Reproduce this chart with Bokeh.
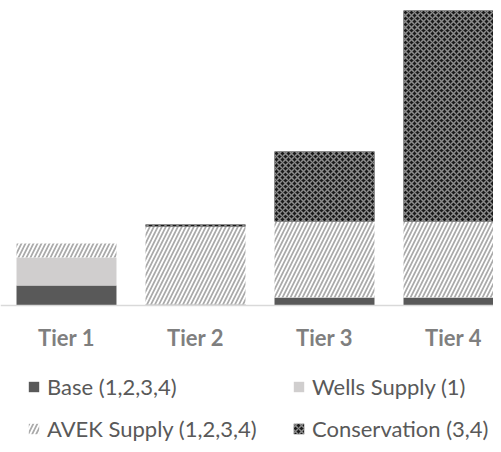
from bokeh.plotting import figure
from bokeh.models import Legend, LegendItem, FixedTicker, ColumnDataSource, Range1d
from bokeh.embed import file_html
from bokeh.resources import INLINE

# ---- data (relative units) ----
tiers = ["Tier 1", "Tier 2", "Tier 3", "Tier 4"]
base = [20, 1, 8, 8]
wells = [28, 0, 0, 0]
avek = [14, 78, 76, 76]
conservation = [0, 2, 70, 211]
series_labels = ["Base (1,2,3,4)", "Wells Supply (1)", "AVEK Supply (1,2,3,4)", "Conservation (3,4)"]

xpos = list(range(1, len(tiers) + 1))
src = ColumnDataSource(dict(x=xpos, base=base, wells=wells, avek=avek, cons=conservation))

p = figure(frame_width=493, frame_height=444, output_backend="svg", toolbar_location=None,
           x_range=Range1d(0.4884, 4.3101), y_range=Range1d(-139, 305),
           y_axis_location=None,
           min_border_left=0, min_border_right=0, min_border_top=0, min_border_bottom=0)
p.outline_line_color = None
p.grid.visible = False
p.background_fill_color = "white"
p.border_fill_color = "white"

rs = p.vbar_stack(["base", "wells", "avek", "cons"], x="x", width=0.775, source=src,
                  fill_color=["#595959", "#d0cece", "white", "#1a1a1a"],
                  line_color=None,
                  hatch_pattern=[" ", " ", "/", "x"],
                  hatch_color=["#595959", "#d0cece", "#aaaaaa", "#8c8c8c"],
                  hatch_scale=[8, 8, 8, 6],
                  hatch_weight=[1, 1, 1.7, 1.5])

ax = p.xaxis[0]
ax.fixed_location = 0
ax.ticker = FixedTicker(ticks=xpos)
ax.major_label_overrides = {x: t for x, t in zip(xpos, tiers)}
ax.axis_line_color = "#d9d9d9"
ax.axis_line_width = 1.5
ax.major_tick_line_color = None
ax.minor_tick_line_color = None
ax.major_tick_out = 0
ax.major_tick_in = 0
ax.major_label_standoff = 18
ax.major_label_text_font = "Lato"
ax.major_label_text_font_style = "bold"
ax.major_label_text_font_size = "22px"
ax.major_label_text_color = "#7f7f7f"

legend = Legend(items=[LegendItem(label=lab, renderers=[r]) for lab, r in zip(series_labels, rs)],
                ncols=2, orientation="horizontal", location=(27, 2),
                margin=0, padding=4, spacing=15,
                glyph_width=13, glyph_height=13, label_standoff=7, label_height=24,
                label_width=230,
                label_text_font="Lato", label_text_font_size="22px",
                label_text_color="#595959",
                border_line_color=None, background_fill_alpha=0)
p.add_layout(legend, "center")

open("out.html", "w").write(file_html(p, INLINE))
